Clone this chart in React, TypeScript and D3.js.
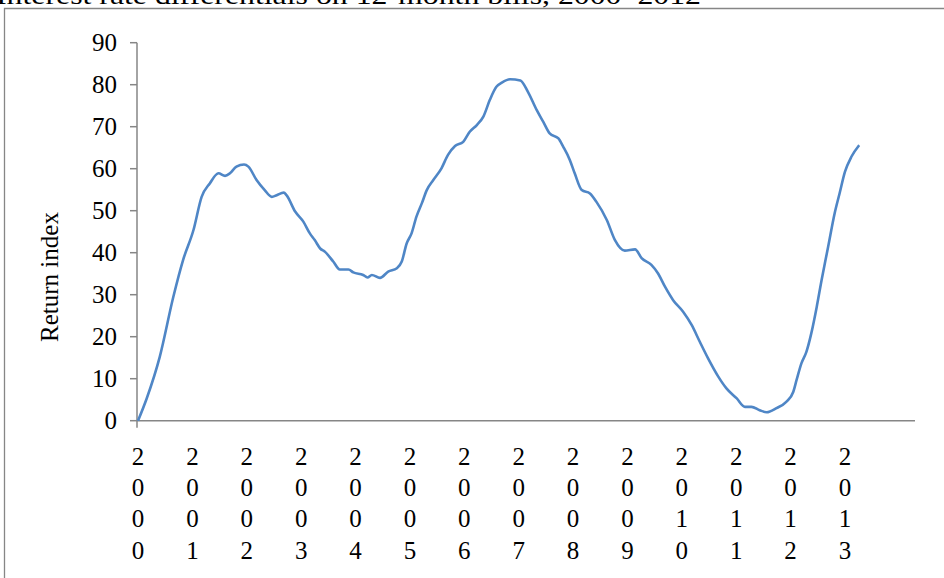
import React from "react";
import * as d3 from "d3";

const TITLE = "Interest rate differentials on 12-month bills, 2000–2012";
const Y_LABEL = "Return index";
const CATEGORIES = ["2000","2001","2002","2003","2004","2005","2006","2007","2008","2009","2010","2011","2012","2013"];
const Y_TICKS = [0, 10, 20, 30, 40, 50, 60, 70, 80, 90];

// time in years since 2000 (decimal) and return index values
const TIMES = [
  0.0, 0.16, 0.40, 0.65, 0.83, 1.02, 1.17, 1.32, 1.48, 1.60, 1.69, 1.81, 1.95, 2.03,
  2.18, 2.33, 2.46, 2.55, 2.68, 2.73, 2.89, 3.04, 3.16, 3.25, 3.35, 3.44, 3.59, 3.71,
  3.87, 3.96, 4.14, 4.22, 4.30, 4.45, 4.60, 4.76, 4.85, 4.94, 5.03, 5.12, 5.22, 5.31,
  5.43, 5.58, 5.70, 5.83, 5.98, 6.10, 6.23, 6.35, 6.47, 6.59, 6.69, 6.84, 7.03, 7.17,
  7.33, 7.45, 7.57, 7.73, 7.82, 7.94, 8.03, 8.16, 8.31, 8.43, 8.62, 8.77, 8.95, 9.14,
  9.26, 9.44, 9.56, 9.69, 9.84, 10.02, 10.18, 10.33, 10.48, 10.67, 10.82, 11.01, 11.16,
  11.28, 11.43, 11.56, 11.74, 11.92, 12.05, 12.11, 12.20, 12.29, 12.38, 12.48, 12.57,
  12.69, 12.81, 12.90, 13.00, 13.12, 13.26
];
const VALUES = [
  0.0, 5.3, 15.2, 29.5, 38.3, 45.4, 53.3, 56.5, 58.9, 58.3, 58.9, 60.5, 61.0, 60.5,
  57.3, 54.9, 53.3, 53.7, 54.3, 53.7, 49.8, 47.4, 44.6, 43.0, 41.0, 40.2, 37.9, 36.0,
  36.0, 35.3, 34.7, 34.1, 34.7, 34.0, 35.5, 36.3, 37.9, 42.2, 44.6, 48.6, 51.8, 54.9,
  57.3, 60.1, 63.3, 65.4, 66.4, 68.8, 70.4, 72.4, 76.4, 79.5, 80.5, 81.3, 81.0, 78.3,
  74.0, 71.2, 68.4, 67.2, 65.2, 62.1, 58.9, 54.9, 54.1, 52.1, 47.8, 43.0, 40.5, 40.8,
  38.7, 37.1, 35.1, 31.9, 28.7, 26.0, 22.8, 18.8, 14.9, 10.5, 7.7, 5.3, 3.3,
  3.3, 2.5, 2.0, 3.0, 4.5, 6.9, 9.7, 13.7, 16.4, 20.8, 27.1, 33.5,
  41.4, 49.4, 54.1, 59.3, 62.9, 65.6
];

const W = 944;
const H = 578;
const FONT = "'Liberation Serif', 'Times New Roman', serif";

export default function App() {
  const x = d3.scaleLinear().domain([0, 13]).range([138, 845]);
  const y = d3.scaleLinear().domain([0, 90]).range([420.7, 42.7]);
  const xEnd = 915;
  const axisColor = "#868686";

  const pts: [number, number][] = TIMES.map((t, i) => [t, VALUES[i]]);
  const line = d3
    .line<[number, number]>()
    .x((d) => x(d[0]))
    .y((d) => y(d[1]))
    .curve(d3.curveMonotoneX);

  const rowBaselines = [465, 496, 527, 559];

  return (
    <svg
      width={W}
      height={H}
      style={{ position: "fixed", left: 0, top: 0, background: "#fff" }}
      fontFamily={FONT}
    >
      <rect x={0} y={0} width={W} height={H} fill="#fff" />
      {/* title, cropped at the top edge as in the source */}
      <text x={-4} y={4} fontSize={25} textLength={705} lengthAdjust="spacingAndGlyphs" fill="#000">
        {TITLE}
      </text>
      {/* chart frame */}
      <path d={`M4.5,${H + 5} V8.5 H${W + 5}`} fill="none" stroke={axisColor} strokeWidth={1.3} />

      {/* y axis */}
      <line x1={137} x2={137} y1={y(90)} y2={y(0) + 7} stroke={axisColor} strokeWidth={1.5} />
      {Y_TICKS.map((t) => (
        <g key={t}>
          <line x1={130} x2={137} y1={y(t)} y2={y(t)} stroke={axisColor} strokeWidth={1.5} />
          <text x={117} y={y(t)} dy="0.35em" textAnchor="end" fontSize={25} fill="#000">
            {t}
          </text>
        </g>
      ))}
      {/* x axis */}
      <line x1={137} x2={xEnd} y1={y(0)} y2={y(0)} stroke={axisColor} strokeWidth={1.5} />
      {CATEGORIES.map((c, i) => (
        <g key={c}>
          {c.split("").map((ch, j) => (
            <text key={j} x={x(i)} y={rowBaselines[j]} textAnchor="middle" fontSize={25} fill="#000">
              {ch}
            </text>
          ))}
        </g>
      ))}

      {/* y label */}
      <text
        transform={`translate(58,277) rotate(-90)`}
        textAnchor="middle"
        fontSize={25}
        fill="#000"
      >
        {Y_LABEL}
      </text>

      {/* series */}
      <path d={line(pts) || ""} fill="none" stroke="#4F86C6" strokeWidth={2.6} strokeLinejoin="round" />
    </svg>
  );
}
